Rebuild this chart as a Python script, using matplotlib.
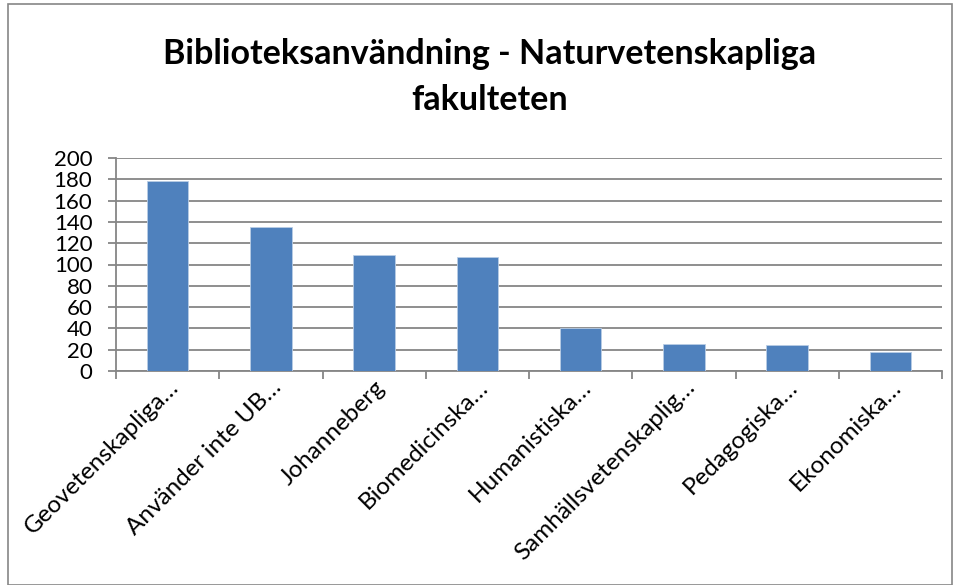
import matplotlib.pyplot as plt
import numpy as np
from matplotlib.patches import Rectangle

categories = ['Geovetenskapliga…', 'Använder inte UB…', 'Johanneberg', 'Biomedicinska…',
              'Humanistiska…', 'Samhällsvetenskaplig…', 'Pedagogiska…', 'Ekonomiska…']
values = [178, 135, 109, 107, 40, 25, 24, 18]
yticks = list(range(0, 201, 20))

plt.rcParams['font.family'] = ['Lato', 'DejaVu Sans']

fig = plt.figure(figsize=(9.56, 5.85), dpi=100)
fig.patches.append(Rectangle((8 / 956, 0), 944 / 956, 581 / 585, transform=fig.transFigure,
                             fill=False, edgecolor='#868686', linewidth=1.2))

ax = fig.add_axes([116 / 956, 1 - 371 / 585, 826 / 956, 213 / 585])
x = np.arange(len(categories))
ax.bar(x, values, width=0.4, color='#4F81BD', edgecolor='#B9CDE5', linewidth=0.6, zorder=3)

ax.set_xlim(-0.5, len(categories) - 0.5)
ax.set_ylim(0, 200)
ax.set_yticks(yticks)
ax.yaxis.grid(True, color='#868686', linewidth=1.3, zorder=0)
ax.tick_params(axis='y', labelsize=16, length=6, color='#868686', width=1.3, pad=11)

ax.set_xticks(x)
ax.set_xticklabels(categories, rotation=45, ha='right', rotation_mode='anchor', fontsize=17.5)
ax.tick_params(axis='x', which='major', length=0, pad=4)
ax.set_xticks(np.arange(len(categories) + 1) - 0.5, minor=True)
ax.tick_params(axis='x', which='minor', length=6, color='#868686', width=1.3)

for s in ['top', 'right']:
    ax.spines[s].set_visible(False)
for s in ['left', 'bottom']:
    ax.spines[s].set_color('#868686')
    ax.spines[s].set_linewidth(1.3)

fig.text(490 / 956, 1 - 77 / 585, 'Biblioteksanvändning - Naturvetenskapliga\nfakulteten',
         ha='center', va='center', fontsize=24.5, fontweight='bold', linespacing=1.5)

fig.savefig('out.png', dpi=100)
